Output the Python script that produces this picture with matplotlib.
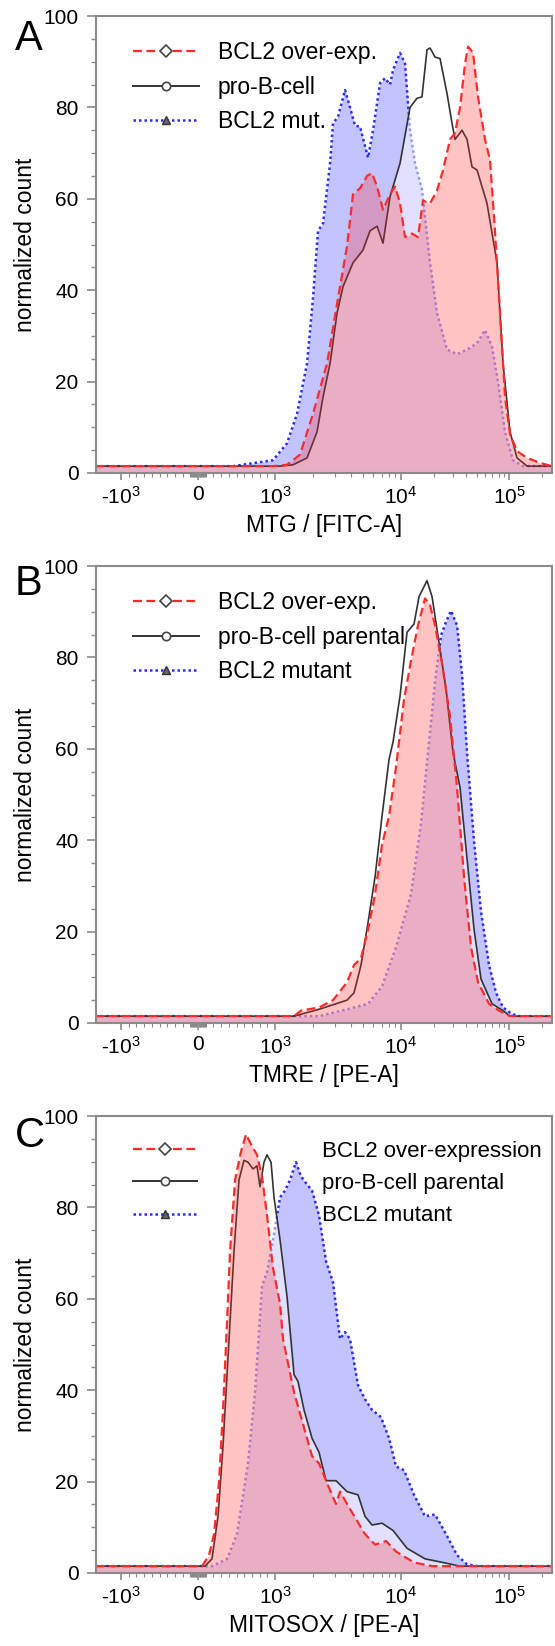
import numpy as np
import matplotlib
matplotlib.use("Agg")
import matplotlib.pyplot as plt
from matplotlib.lines import Line2D
from matplotlib.ticker import FixedLocator, MultipleLocator, NullFormatter

plt.rcParams['font.family'] = ['Liberation Sans', 'DejaVu Sans']
plt.rcParams['mathtext.fontset'] = 'custom'
plt.rcParams['mathtext.rm'] = 'Liberation Sans'
plt.rcParams['mathtext.it'] = 'Liberation Sans:italic'
plt.rcParams['mathtext.bf'] = 'Liberation Sans:bold'

# ---- data (fluorescence intensity, normalized count) ----
# Panel A: MTG
a_red_x = [-1600, 974, 1245, 1579, 2004, 2588, 3105, 3727, 4159, 4729, 5373, 5884, 6453, 7194, 8182,
           8963, 9825, 10890, 12650, 14360, 15980, 18570, 21540, 24490, 28450, 31620, 35190, 39170,
           41730, 46420, 51640, 59950, 66680, 74130, 82550, 91830, 102100, 118600, 146900, 193800, 250000]
a_red_y = [1.5, 1.5, 1.8, 4, 13, 24, 37, 49.6, 61, 62.3, 65, 65.6, 62.7, 57.6, 61,
           62.7, 59, 51.6, 52.4, 51.6, 59.6, 59, 61.8, 66.3, 73, 74.4, 80, 89.6,
           93.3, 92, 82.3, 73, 68.5, 53, 35, 16.6, 8.5, 4.8, 3.3, 2.2, 1.5]
a_black_x = [-1600, 1096, 1389, 1795, 2154, 2404, 2735, 3105, 3467, 4159, 4994, 5675, 6453, 7194,
             8182, 9825, 12120, 14060, 15630, 17400, 18570, 20660, 22970, 26680, 29670, 31620,
             36720, 40840, 45410, 50580, 62530, 77410, 87980, 102100, 118600, 146900, 250000]
a_black_y = [1.5, 1.5, 1.8, 3.3, 9, 16.6, 24, 35, 40.8, 46, 48.8, 53, 54, 50.3,
             60.5, 67.8, 80, 82, 82.3, 92.6, 93, 91, 90.7, 83, 76.5, 73,
             75, 73, 67, 66.3, 59, 46, 24, 9, 3.3, 1.5, 1.5]
a_blue_x = [-1600, 455, 974, 1245, 1496, 1795, 2004, 2194, 2404, 2735, 2886, 3162, 3594, 3936, 4315,
            4729, 5474, 5996, 6813, 7461, 8182, 8643, 9825, 10890, 12120, 13480, 15630, 16680,
            18570, 21540, 26680, 33020, 40840, 50580, 59950, 69650, 79070, 91830, 108900, 134800, 250000]
a_blue_y = [1.5, 1.5, 2.8, 6.5, 13, 24, 38.5, 53, 54.6, 67.8, 76.5, 78, 83.8, 80, 76,
            75.8, 69, 75, 85.3, 86.4, 85, 88.2, 91.9, 89.6, 75, 67.8, 62, 56,
            46, 35, 27, 26, 27, 28.4, 31.3, 27.6, 20, 9, 2.8, 1.5, 1.5]

# Panel B: TMRE
b_red_x = [-1600, 1416, 1607, 2234, 2886, 3727, 4236, 4815, 5474, 6222, 7068, 8035, 9125, 10660,
           12380, 14360, 16680, 18570, 20660, 23990, 28450, 33020, 38300, 44460, 51640, 65260,
           80760, 102100, 250000]
b_red_y = [1.5, 1.5, 2.7, 3.4, 5, 8.9, 12.7, 14.2, 20.5, 28.2, 39, 45.3, 56, 70.8,
           79.3, 87, 92.9, 91.4, 87, 78.6, 67, 51.5, 32, 16.6, 8.9, 4.2,
           2.7, 1.5, 1.5]
b_black_x = [-1600, 1416, 2234, 3047, 3727, 4236, 4815, 5474, 6222, 7068, 8035, 8643, 9825, 11370,
             13190, 14690, 17400, 19370, 22490, 26120, 30280, 35190, 40840, 47430, 55050, 69650,
             87980, 102100, 250000]
b_black_y = [1.5, 1.5, 3, 4.2, 5, 6.6, 12.7, 22, 32, 45.3, 57.7, 61.5, 71.6, 85.5,
             87.3, 93.3, 96.8, 93.3, 83.2, 73, 59.2, 51.5, 36, 20.5, 9.6, 4.2,
             2.7, 1.5, 1.5]
b_blue_x = [-1600, 2234, 3727, 5474, 7068, 9125, 12380, 15320, 17780, 20660, 23450, 26120, 29040,
            33020, 36720, 40840, 47430, 55050, 65260, 75860, 87980, 102100, 118600, 250000]
b_blue_y = [1.5, 1.5, 3, 4.2, 8, 16.6, 28.2, 43.7, 59.2, 74.7, 84.8, 87.8, 90.2,
            87, 76.3, 59.2, 39.8, 24.4, 12.7, 6.6, 3.4, 2.3, 1.5, 1.5]

# Panel C: MITOSOX
c_red_x = [-1600, 52, 143, 208, 273, 325, 377, 416, 481, 558, 623, 688, 766, 831, 896, 974, 1096,
           1157, 1416, 1698, 1966, 2234, 2685, 3047, 3281, 3936, 5179, 6222, 7603, 9125, 13190,
           19370, 250000]
c_red_y = [1.5, 1.5, 3.9, 8.5, 20, 35.7, 55, 70.5, 86, 92.2, 96, 93.8, 91.5, 86.8, 78.3, 66.7, 58.9,
           51.2, 39.5, 31.8, 25.6, 24, 18.6, 15.1, 17.8, 14, 8.5, 6.2, 7, 4.7, 2.3,
           1.5, 1.5]
c_black_x = [-1600, 91, 182, 260, 325, 390, 468, 532, 597, 649, 714, 766, 805, 857, 896, 948, 987,
             1096, 1245, 1416, 1522, 1698, 1966, 2234, 2540, 3047, 3727, 4560, 5179, 5884, 7068,
             8643, 11370, 16680, 24490, 35190, 250000]
c_black_y = [1.5, 1.5, 3.1, 12.4, 27.9, 47.3, 70.5, 86, 90.3, 89.9, 88.4, 89.1, 84.5, 89.9, 91.5, 89.9, 82.2,
             72.9, 60.5, 43.4, 41.9, 35.7, 29.5, 26.4, 20.2, 20.2, 17.8, 17.1, 12.4, 10.5, 10.9,
             9.3, 5.4, 3.1, 2.3, 1.5, 1.5]
c_blue_x = [-1600, 182, 377, 506, 649, 740, 831, 896, 974, 1096, 1202, 1315, 1467, 1607, 1762, 1966,
            2234, 2540, 2886, 3281, 3594, 3936, 4560, 5179, 5884, 6935, 8035, 9125, 10660, 13190,
            16680, 20660, 26120, 33020, 40840, 51640, 250000]
c_blue_y = [1.5, 1.5, 3.1, 8.5, 24, 39.5, 62.8, 65.9, 72.9, 82.2, 83.7, 86, 89.9, 86.8, 85.3, 83.7,
            78.3, 68.2, 63.6, 51.2, 52.7, 51.2, 41.1, 38, 35.7, 34.1, 29.5, 23.3, 22.5, 17.1,
            12.4, 12.8, 8.5, 3.9, 1.9, 1.5, 1.5]

legend_a = ['BCL2 over-exp.', 'pro-B-cell', 'BCL2 mut.']
legend_b = ['BCL2 over-exp.', 'pro-B-cell parental', 'BCL2 mutant']
legend_c = ['BCL2 over-expression', 'pro-B-cell parental', 'BCL2 mutant']
xlabels = ['MTG / [FITC-A]', 'TMRE / [PE-A]', 'MITOSOX / [PE-A]']
letters = ['A', 'B', 'C']

x_ticks = [-1e3, 0, 1e3, 1e4, 1e5]
x_ticklabels = ['-$10^{3}$', '0', '$10^{3}$', '$10^{4}$', '$10^{5}$']

RED = '#ff2a2a'
BLACK = '#333333'
BLUE = '#2a2aff'
GRAY = '#8a8a8a'

# ---- biexponential-like axis: linear around zero, log decades outside ----
LIN = 0.077   # display units per count in the linear part
D1 = 126.0    # width of 1e3..1e4 decade
D2 = 108.0    # width of higher decades


def biex_forward(x):
    x = np.asarray(x, dtype=float)
    a = np.maximum(np.abs(x), 1e3)
    lin = x * LIN
    pos = 1e3 * LIN + D1 * np.log10(np.minimum(a, 1e4) / 1e3) + D2 * np.log10(np.maximum(a, 1e4) / 1e4)
    neg = -1e3 * LIN - D1 * np.log10(a / 1e3)
    return np.where(x > 1e3, pos, np.where(x < -1e3, neg, lin))


def biex_inverse(u):
    u = np.asarray(u, dtype=float)
    u1 = 1e3 * LIN
    uc = np.clip(u, -1000, 1000)
    lin = uc / LIN
    pos = np.where(uc <= u1 + D1, 1e3 * 10 ** ((uc - u1) / D1), 1e4 * 10 ** ((uc - u1 - D1) / D2))
    neg = -1e3 * 10 ** ((-uc - u1) / D1)
    return np.where(uc > u1, pos, np.where(uc < -u1, neg, lin))


def minor_x_ticks():
    ticks = []
    for k in range(1, 10):
        ticks += [-k * 100, -k * 10, k * 10, k * 100]
    for k in range(2, 10):
        ticks += [k * 1e3, k * 1e4]
    ticks.append(2e5)
    return sorted(ticks)


def draw_panel(ax, red, black, blue, labels, xlabel, textpad, legsize):
    # fills: blue first, then a white veil for the parental line, then red on top
    ax.fill_between(blue[0], 0, blue[1], color=BLUE, alpha=0.28, lw=0, zorder=1)
    ax.plot(blue[0], blue[1], color=BLUE, ls=(0, (1, 1.2)), lw=1.8, zorder=2)
    ax.fill_between(black[0], 0, black[1], color='white', alpha=0.5, lw=0, zorder=3)
    ax.plot(black[0], black[1], color=BLACK, ls='-', lw=1.2, zorder=4)
    ax.fill_between(red[0], 0, red[1], color=RED, alpha=0.28, lw=0, zorder=5)
    ax.plot(red[0], red[1], color=RED, ls=(0, (4, 2)), lw=1.6, zorder=6)

    ax.set_xscale('function', functions=(biex_forward, biex_inverse))
    ax.set_xlim(-1580, 2.5e5)
    ax.set_ylim(0, 100)

    ax.xaxis.set_major_locator(FixedLocator(x_ticks))
    ax.set_xticklabels(x_ticklabels)
    ax.xaxis.set_minor_locator(FixedLocator(minor_x_ticks()))
    ax.xaxis.set_minor_formatter(NullFormatter())
    ax.yaxis.set_major_locator(MultipleLocator(20))
    ax.yaxis.set_minor_locator(MultipleLocator(5))

    ax.tick_params(axis='y', which='major', length=6.5, width=1.2, color=GRAY, labelsize=15, pad=6)
    ax.tick_params(axis='y', which='minor', length=3.5, width=1.0, color=GRAY)
    ax.tick_params(axis='x', which='major', length=5, width=1.2, color=GRAY, labelsize=15, pad=4)
    ax.tick_params(axis='x', which='minor', length=3, width=0.8, color=GRAY)
    for s in ax.spines.values():
        s.set_color(GRAY)
        s.set_linewidth(1.5)
        s.set_zorder(7)

    ax.set_xlabel(xlabel, fontsize=16.5, labelpad=5)
    ax.set_ylabel('normalized count', fontsize=16.5, labelpad=5)

    handles = [
        Line2D([], [], color=RED, ls=(0, (4, 2)), lw=1.6, marker='D', ms=6,
               mfc='white', mec='#444444', mew=1.2),
        Line2D([], [], color=BLACK, ls='-', lw=1.4, marker='o', ms=6,
               mfc='white', mec='#444444', mew=1.2),
        Line2D([], [], color=BLUE, ls=(0, (1, 1.2)), lw=1.8, marker='^', ms=6,
               mfc='#666666', mec='#333333', mew=1.0),
    ]
    ax.legend(handles, labels, loc='upper left', bbox_to_anchor=(0.081, 0.945),
              frameon=False, fontsize=legsize, borderpad=0, borderaxespad=0,
              handlelength=2.9, handletextpad=textpad, labelspacing=0.5)


fig = plt.figure(figsize=(5.55, 16.46), dpi=100)
left, width, height = 96 / 555, 456 / 555, 457 / 1646
bottoms = [(1646 - 473) / 1646, (1646 - 1023) / 1646, (1646 - 1573) / 1646]
letter_base = [50, 595, 1147]

panels = [
    ((a_red_x, a_red_y), (a_black_x, a_black_y), (a_blue_x, a_blue_y), legend_a, 0.8, 16.5),
    ((b_red_x, b_red_y), (b_black_x, b_black_y), (b_blue_x, b_blue_y), legend_b, 0.8, 16.5),
    ((c_red_x, c_red_y), (c_black_x, c_black_y), (c_blue_x, c_blue_y), legend_c, 5.6, 16),
]

for i, (red, black, blue, labels, pad, legsize) in enumerate(panels):
    ax = fig.add_axes([left, bottoms[i], width, height])
    draw_panel(ax, red, black, blue, labels, xlabels[i], pad, legsize)
    fig.text(15 / 555, 1 - letter_base[i] / 1646, letters[i], fontsize=30, va='baseline', ha='left')

fig.savefig('out.png', dpi=100)
